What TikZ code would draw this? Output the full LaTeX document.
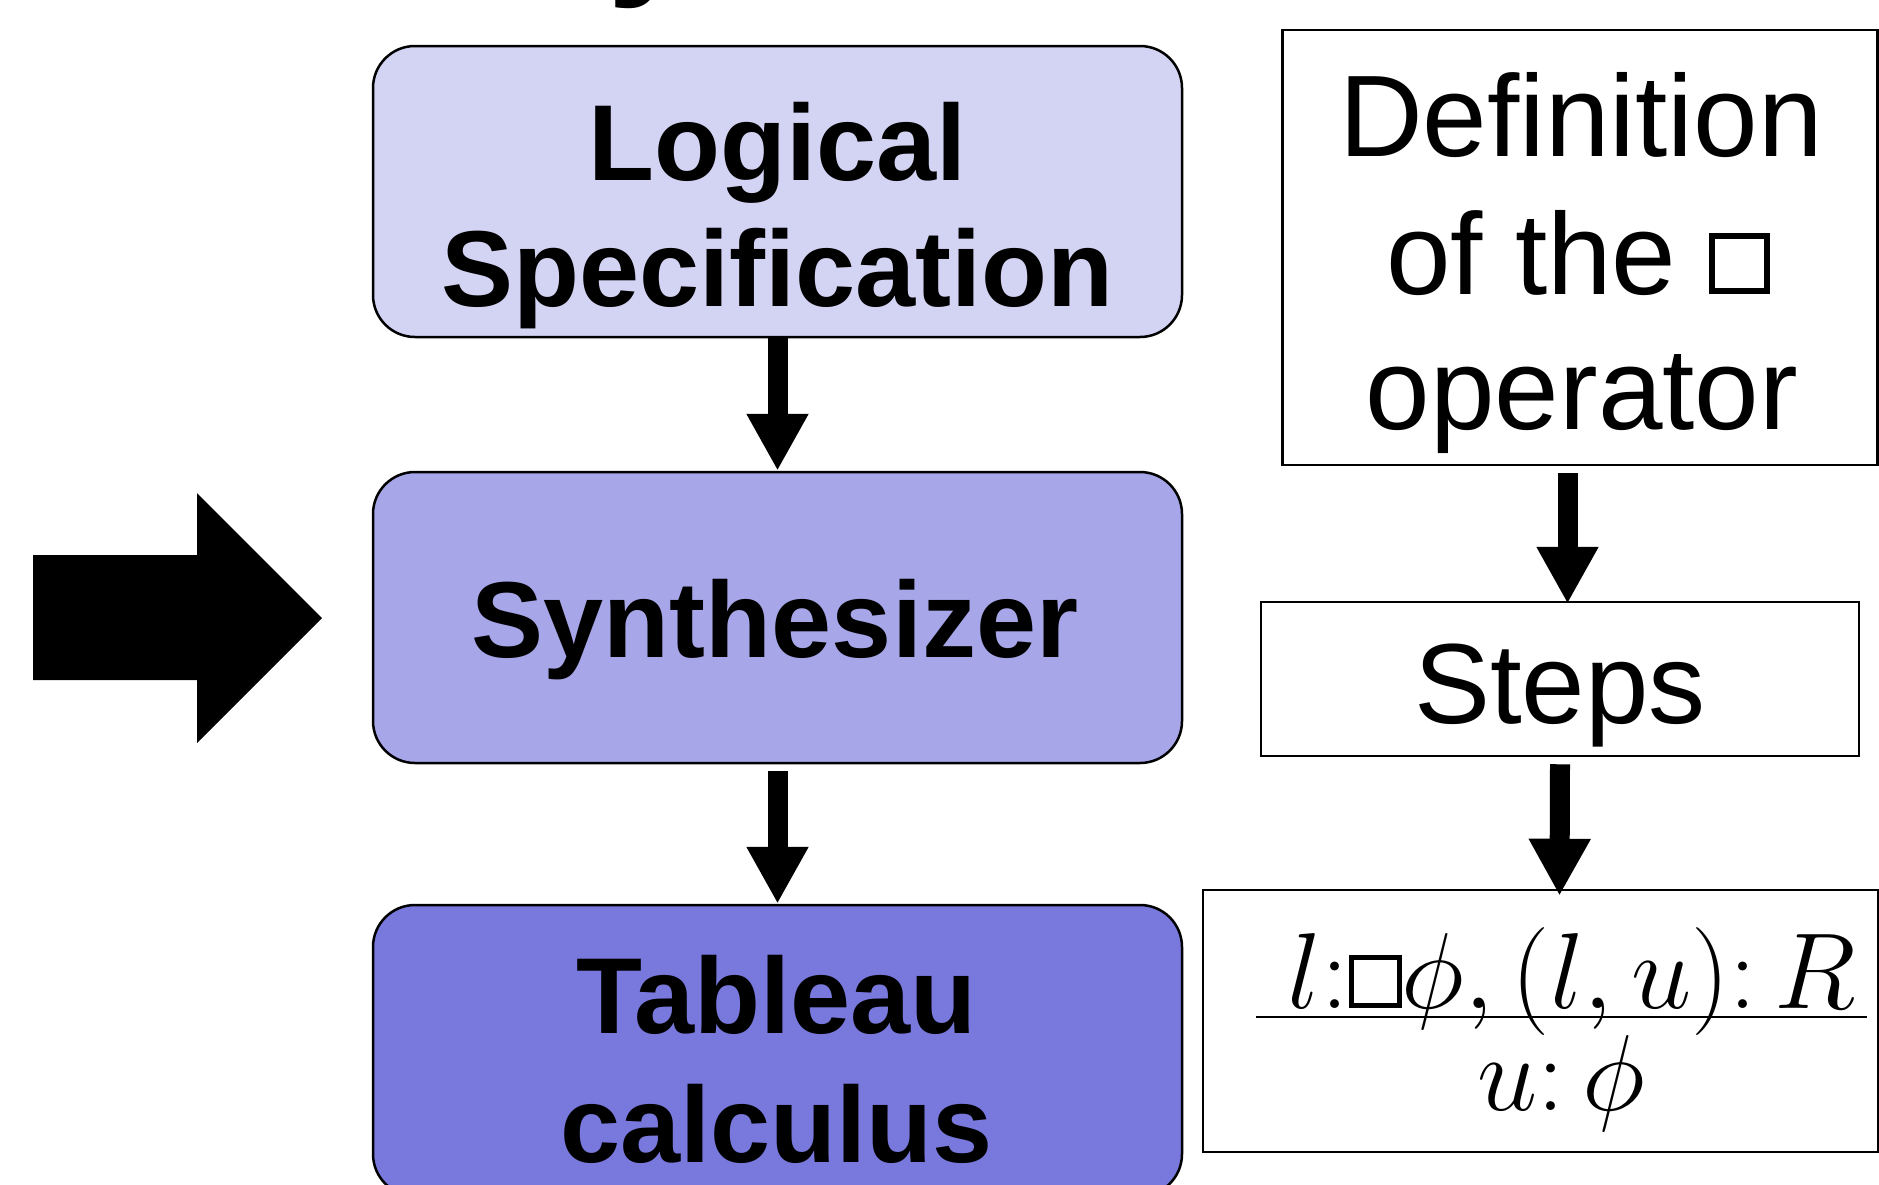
\RequirePackage{fix-cm}
\documentclass[tikz,border=0pt]{standalone}
\usepackage{fontspec}
\setmainfont{Liberation Sans}
\usetikzlibrary{arrows.meta}
\definecolor{specfill}{RGB}{211,211,244}
\definecolor{synthfill}{RGB}{166,166,232}
\definecolor{tabfill}{RGB}{120,120,221}
\newcommand{\sqbox}[2]{\tikz[baseline=0pt]\draw[line width=#2] (#2/2,#2/2) rectangle (#1-#2/2,#1-#2/2);}
\tikzset{
  roundbox/.style={draw=black, line width=1.25pt, rounded corners=21pt, minimum width=404.5pt, minimum height=145.5pt, inner sep=0pt},
  plainbox/.style={draw=black, line width=1.25pt, inner sep=0pt},
  boldtext/.style={anchor=base, inner sep=0pt, font=\fontsize{54}{63}\selectfont\bfseries},
  deftext/.style={anchor=base, inner sep=0pt, font=\fontsize{58}{68}\selectfont},
  mathtext/.style={anchor=base, inner sep=0pt, font=\fontsize{54}{62}\selectfont},
  flow/.style={line width=10pt, -{Triangle[length=28.5pt,width=29pt]}},
}
\begin{document}
\begin{tikzpicture}[x=0.5pt,y=-0.5pt]
\useasboundingbox (0,0) rectangle (1879,1184);
% cut-off title fragment
\node[anchor=base, inner sep=0pt, font=\fontsize{80}{90}\selectfont\bfseries] (titlefrag) at (652,-25) {y};
% left column
\node[roundbox, fill=specfill] (logic) at (777.5,191.5) {};
\node[roundbox, fill=synthfill] (synth) at (777.5,617.5) {};
\node[roundbox, fill=tabfill] (tab) at (777.5,1050.5) {};
\node[boldtext] (logicA) at (777.5,180) {Logical};
\node[boldtext] (logicB) at (777.5,306) {Specification};
\node[boldtext] (synthA) at (775,657) {Synthesizer};
\node[boldtext] (tabA) at (776.5,1033) {Tableau};
\node[boldtext] (tabB) at (776.5,1162) {calculus};
% right column
\node[plainbox, minimum width=297.5pt, minimum height=217.5pt] (def) at (1580,247.5) {};
\node[deftext] (defA) at (1581,156) {Definition};
\node[deftext] (defB) at (1578,294) {of the \sqbox{30.5pt}{3pt}};
\node[deftext] (defC) at (1582,429) {operator};
\node[plainbox, minimum width=299pt, minimum height=77pt] (steps) at (1560,679) {};
\node[anchor=base, inner sep=0pt, font=\fontsize{57}{66}\selectfont] (stepsA) at (1560,723) {Steps};
\node[plainbox, minimum width=337.5pt, minimum height=131pt] (formula) at (1540.5,1021) {};
\node[mathtext] (num) at (1572,1008) {$l{:}\mbox{\sqbox{26.5pt}{2.5pt}}\phi,(l,u){:}\,R$};
\node[mathtext] (den) at (1561,1110) {$u{:}\,\phi$};
\draw[line width=1.2pt] ([xshift=-142.25pt]formula.center |- 0,1017) -- ([xshift=163.25pt]formula.center |- 0,1017);
% big input arrow
\fill[black] (33,555) -- (197,555) -- (197,493) -- (322,618) -- (197,743) -- (197,680) -- (33,680) -- cycle;
% connectors
\draw[flow] (logic.south) -- (synth.north);
\draw[flow] ([yshift=-3.5pt]synth.south) -- (tab.north);
\draw[flow] ([xshift=-6.25pt,yshift=-3.5pt]def.south) -- ([xshift=3.75pt,yshift=-1.5pt]steps.north);
\draw[flow] ([yshift=-3.5pt]steps.south) -- ([xshift=9.5pt,yshift=-3.5pt]formula.north);
\end{tikzpicture}
\end{document}
